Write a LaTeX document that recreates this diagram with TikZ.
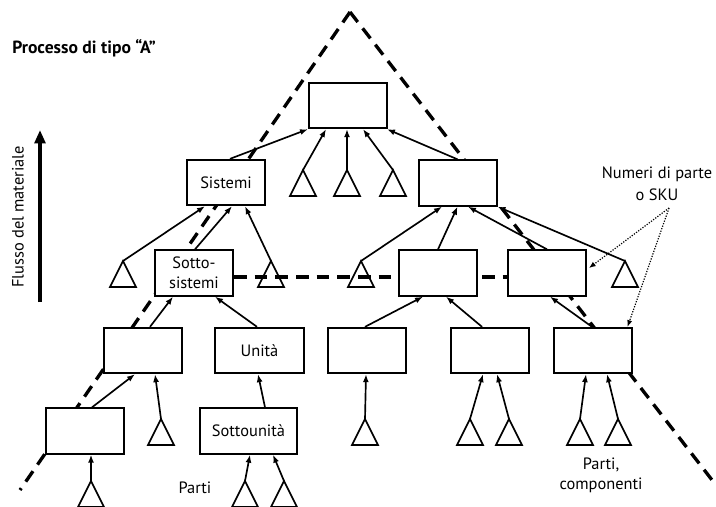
\documentclass[tikz,border=0pt]{standalone}
\usepackage{fontspec}
\setmainfont{PT Sans}
\usetikzlibrary{arrows.meta,calc}
\tikzset{
  box/.style={draw, line width=1.5pt, fill=white, minimum width=58.5pt, minimum height=34pt, inner sep=0pt, font=\fontsize{12.3}{15}\selectfont, align=center},
  conn/.style={line width=1.25pt, -{Latex[length=6pt,width=4.5pt]}},
  tri/.style={line width=1.2pt},
  bigdash/.style={line width=2.5pt, dash pattern=on 9.5pt off 6pt},
  dotconn/.style={line width=0.9pt, dash pattern=on 0.9pt off 1.1pt, -{Latex[length=5pt,width=4pt]}},
  lbl/.style={font=\fontsize{12.3}{15}\selectfont, align=center, inner sep=0pt}
}
\newcommand\mytri[1]{\draw[tri] (#1) -- ++(-13,26) -- ++(26,0) -- cycle;}
\begin{document}
\begin{tikzpicture}[x=0.75pt, y=-0.75pt]
\useasboundingbox (0,0) rectangle (716,506);
% big dashed triangle
\coordinate (apex) at (350,12);
\coordinate (lfoot) at (20,490);
\coordinate (rfoot) at (712,480);
\draw[bigdash] (apex) -- (lfoot);
\draw[bigdash] (apex) -- (rfoot);
% boxes
\node[box] (SS) at (194,273) {Sotto-\\sistemi};
\node[box] (L3c) at (547,273) {};
\draw[bigdash] ($(SS.east)+(0,4)$) -- ($(L3c.west)+(0,4)$);
\node[box] (L3b) at (438,273) {};
\node[box] (T) at (348,105.5) {};
\node[box] (S) at (226,182.5) {Sistemi};
\node[box] (R1) at (457.5,183) {};
\node[box] (L4a) at (142.5,350.5) {};
\node[box, minimum width=66.75pt] (U) at (259.5,350.5) {Unità};
\node[box] (L4c) at (367,350.5) {};
\node[box] (L4d) at (489.5,350.5) {};
\node[box] (L4e) at (592.5,350.5) {};
\node[box] (L5a) at (84.5,431) {};
\node[box, minimum width=72.75pt] (SU) at (248.5,431) {Sottounità};
% triangles (apex coordinates)
\coordinate (t1) at (303,170);
\coordinate (t2) at (347,170);
\coordinate (t3) at (393,170);
\coordinate (t4) at (123,261);
\coordinate (t5) at (271,261);
\coordinate (t6) at (361,261);
\coordinate (t7) at (625,261);
\coordinate (t8) at (161,419);
\coordinate (t9) at (365,419);
\coordinate (t10) at (470,419);
\coordinate (t11) at (509,419);
\coordinate (t12) at (580,419);
\coordinate (t13) at (618,419);
\coordinate (t14) at (91,481);
\coordinate (t15) at (245,481);
\coordinate (t16) at (284,481);
\foreach \t in {t1,t2,t3,t4,t5,t6,t7,t8,t9,t10,t11,t12,t13,t14,t15,t16} {\mytri{\t}}
% connectors
\draw[conn] ($(S.north)+(4,0)$) -- (T.south west);
\draw[conn] (t1) -- ($(T.south west)+(18,0)$);
\draw[conn] (t2) -- ($(T.south)+(-1,0)$);
\draw[conn] (t3) -- ($(T.south)+(15,0)$);
\draw[conn] (R1.north) -- ($(T.south east)+(-1,0)$);
\draw[conn] (t4) -- ($(S.south)+(-21,0)$);
\draw[conn] ($(SS.north)+(1,0)$) -- ($(S.south)+(6,0)$);
\draw[conn] (t5) -- ($(S.south)+(19,0)$);
\draw[conn] (t6) -- ($(R1.south)+(-15.5,0)$);
\draw[conn] (L3b.north) -- (R1.south);
\draw[conn] (L3c.north) -- ($(R1.south)+(10.5,0)$);
\draw[conn] (t7) -- (R1.south east);
\draw[conn] ($(L4a.north)+(7.5,0)$) -- ($(SS.south)+(-21,0)$);
\draw[conn] ($(U.north)+(-2.5,0)$) -- ($(SS.south)+(21,0)$);
\draw[conn] ($(L4c.north)+(-2,0)$) -- ($(L3b.south)+(-15,0)$);
\draw[conn] ($(L4d.north)+(-7.5,0)$) -- ($(L3b.south)+(8,0)$);
\draw[conn] ($(L4e.north)+(-0.5,0)$) -- ($(L3c.south)+(3,0)$);
\draw[conn] ($(L5a.north)+(7.5,0)$) -- ($(L4a.south)+(-7.5,0)$);
\draw[conn] (t8) -- ($(L4a.south)+(12.5,0)$);
\draw[conn] ($(SU.north)+(16.5,0)$) -- ($(U.south)+(-1.5,0)$);
\draw[conn] (t9) -- ($(L4c.south)+(-1,0)$);
\draw[conn] (t10) -- ($(L4d.south)+(-6.5,0)$);
\draw[conn] (t11) -- ($(L4d.south)+(7.5,0)$);
\draw[conn] (t12) -- ($(L4e.south)+(-6.5,0)$);
\draw[conn] (t13) -- ($(L4e.south)+(14.5,0)$);
\draw[conn] (t14) -- ($(L5a.south)+(6.5,0)$);
\draw[conn] (t15) -- ($(SU.south)+(1.5,0)$);
\draw[conn] (t16) -- ($(SU.south)+(24.5,0)$);
% labels
\node[anchor=west, inner sep=0pt, font=\fontsize{13.2}{15}\selectfont\bfseries] (title) at (12,48) {Processo di tipo “A”};
\node[lbl, rotate=90] (flow) at (18,217) {Flusso del materiale};
\coordinate (fbot) at (40,302);
\coordinate (ftop) at (40,130);
\draw[line width=3pt, -{Triangle[length=10pt,width=8pt]}] (fbot) -- (ftop);
\node[lbl, font=\fontsize{12.3}{16.5}\selectfont] (sku) at (657,184) {Numeri di parte\\o SKU};
\coordinate (skupt) at (669,208);
\draw[dotconn] (skupt) -- ($(L3c.east)+(2,-5)$);
\draw[dotconn] (skupt) -- ($(L4e.north east)+(-5,0)$);
\node[lbl] (parti) at (195,488) {Parti};
\node[lbl] (partic) at (601,475) {Parti,\\componenti};
\end{tikzpicture}
\end{document}
